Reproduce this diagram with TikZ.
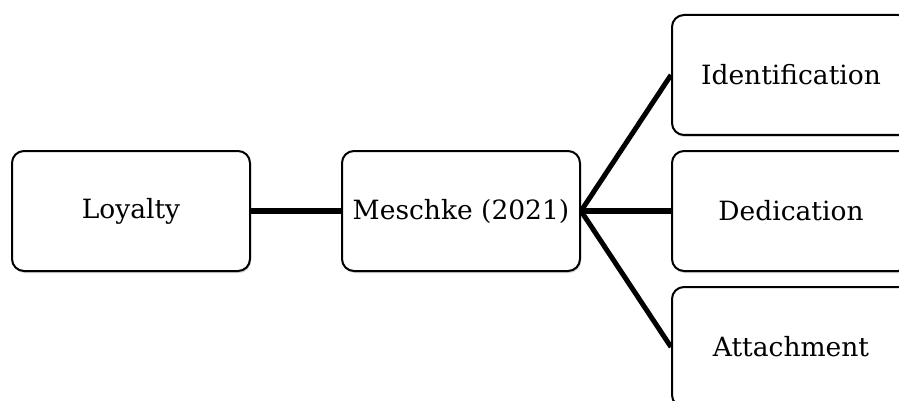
\documentclass[tikz,border=0pt]{standalone}
\usepackage{fontspec}
\setmainfont{DejaVu Serif}
\usetikzlibrary{shadows}
\begin{document}
\begin{tikzpicture}[x=1pt,y=-1pt,
  box/.style={draw=black, line width=2pt, rounded corners=12pt, fill=white,
    minimum width=238pt, minimum height=120pt, inner sep=0pt,
    font=\fontsize{26.5}{30}\selectfont,
    drop shadow={shadow xshift=1pt, shadow yshift=-2pt, opacity=0.35, fill=gray}},
  link/.style={line width=5pt, black}]
\useasboundingbox (0,0) rectangle (899,401);
\clip (0,0) rectangle (899,401);
\fill[white] (0,0) rectangle (899,401);
\node[box] (loy) at (131,211) {Loyalty};
\node[box] (mes) at (461,211) {Meschke (2021)};
\node[box] (ide) at (791,75) {Identification};
\node[box] (ded) at (791,211) {Dedication};
\node[box] (att) at (791,347) {Attachment};
\draw[link, line width=6pt] (loy.east) -- (mes.west);
\draw[link] (mes.east) -- (ide.west);
\draw[link, line width=6pt] (mes.east) -- (ded.west);
\draw[link] (mes.east) -- (att.west);
\end{tikzpicture}
\end{document}
